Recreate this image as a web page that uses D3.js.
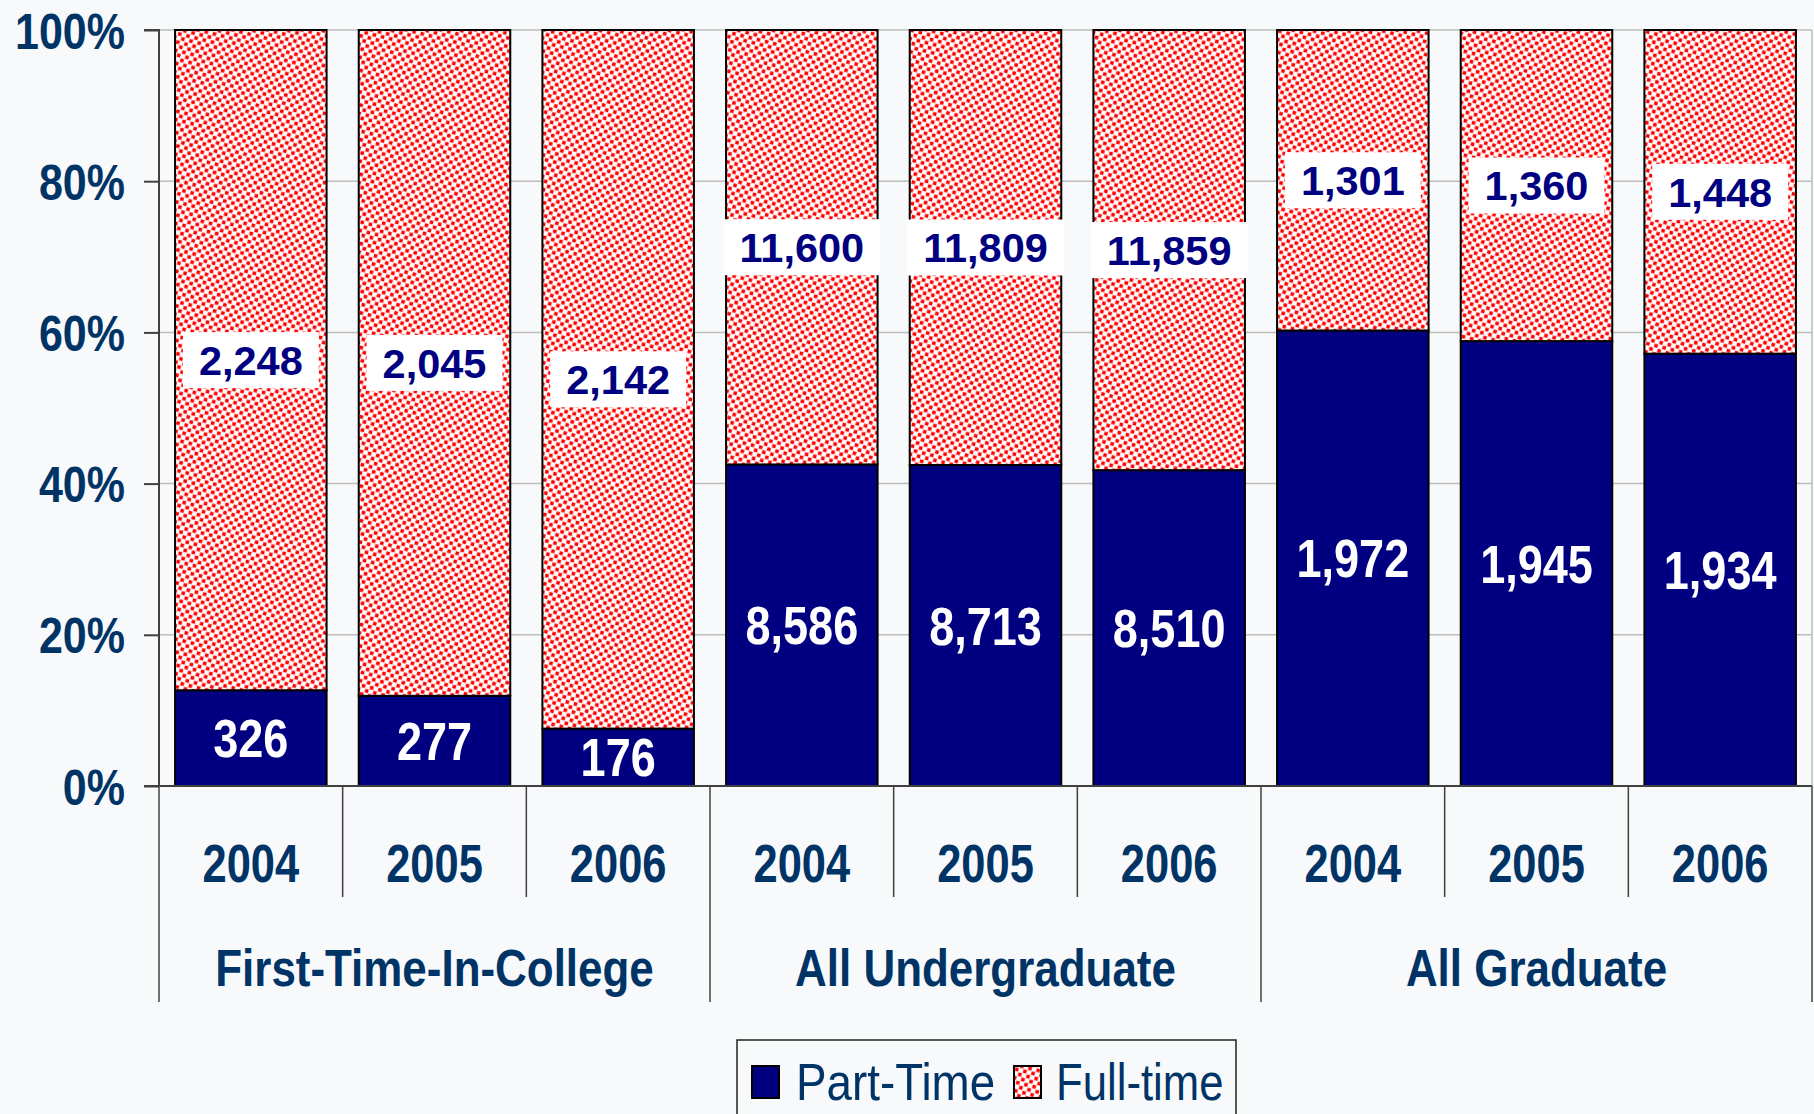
<!DOCTYPE html>
<html><head><meta charset="utf-8">
<script src="https://cdn.jsdelivr.net/npm/d3@7"></script>
<style>
html,body{margin:0;padding:0;background:#f7f9fb;}
svg{display:block;}
text{font-family:"Liberation Sans",Arial,sans-serif;}
</style></head>
<body>
<svg id="chart" width="1814" height="1114"></svg>
<script>
// ---- data ----
const groups = ["First-Time-In-College", "All Undergraduate", "All Graduate"];
const years = ["2004", "2005", "2006"];
const partTime = [326, 277, 176, 8586, 8713, 8510, 1972, 1945, 1934];
const fullTime = [2248, 2045, 2142, 11600, 11809, 11859, 1301, 1360, 1448];
const yTicks = [0, 0.2, 0.4, 0.6, 0.8, 1.0];
const seriesNames = ["Part-Time", "Full-time"];

const NAVY = "#000080", TXT = "#003366";
const svg = d3.select("#chart");
const W = 1814, H = 1114;
const m = {left: 159, right: 2, top: 30, bottom: 328};
const plotW = W - m.left - m.right, plotH = H - m.top - m.bottom;

const cats = [];
groups.forEach((g, gi) => years.forEach((y, yi) => cats.push({g, y, gi, yi, i: gi * 3 + yi})));
const table = cats.map(c => ({key: c.i, part: partTime[c.i], full: fullTime[c.i]}));
const stack = d3.stack().keys(["part", "full"]).offset(d3.stackOffsetExpand);
const stacked = stack(table);

const x = d3.scaleBand().domain(cats.map(c => c.i)).range([m.left, m.left + plotW]).paddingInner(0.175).paddingOuter(0.0875);
const xStep = plotW / cats.length;
const y = d3.scaleLinear().domain([0, 1]).range([m.top + plotH, m.top]);

// pattern
const defs = svg.append("defs");
const pat = defs.append("pattern").attr("id", "dots").attr("patternUnits", "userSpaceOnUse")
  .attr("width", 8.4).attr("height", 8.4).attr("patternTransform", "rotate(14)");
pat.append("rect").attr("width", 8.4).attr("height", 8.4).attr("fill", "#fff");
pat.append("rect").attr("x", 0.3).attr("y", 0.3).attr("width", 3.6).attr("height", 3.6).attr("fill", "#ff0000");
pat.append("rect").attr("x", 4.5).attr("y", 4.5).attr("width", 3.6).attr("height", 3.6).attr("fill", "#ff0000");

// gridlines
svg.append("g").selectAll("line").data(yTicks.filter(t => t > 0)).join("line")
  .attr("x1", m.left).attr("x2", m.left + plotW)
  .attr("y1", d => y(d)).attr("y2", d => y(d))
  .attr("stroke", "#bdbdbd").attr("stroke-width", 1.5);
svg.append("line").attr("x1", m.left + plotW).attr("x2", m.left + plotW)
  .attr("y1", y(1)).attr("y2", y(0)).attr("stroke", "#bdbdbd").attr("stroke-width", 1.5);

// bars
const fills = [NAVY, "url(#dots)"];
stacked.forEach((s, si) => {
  svg.append("g").selectAll("rect").data(s).join("rect")
    .attr("x", (d, i) => x(i)).attr("width", x.bandwidth())
    .attr("y", d => y(d[1])).attr("height", d => y(d[0]) - y(d[1]))
    .attr("fill", fills[si]).attr("stroke", "#000").attr("stroke-width", 2);
});

// y axis
const yAxis = d3.axisLeft(y).tickValues(yTicks).tickFormat(d3.format(".0%")).tickSize(15).tickPadding(0);
const ya = svg.append("g").attr("transform", `translate(${m.left},0)`).call(yAxis);
ya.select(".domain").attr("stroke", "#404040").attr("stroke-width", 2).attr("d", `M-15,${y(1)}H0V${y(0)}`);
ya.selectAll(".tick line").attr("stroke", "#404040").attr("stroke-width", 2);
ya.selectAll(".tick text").remove();
ya.selectAll(".tick").append("g").attr("transform", "translate(-34,0) scale(0.86,1)")
  .append("text").text(d => d3.format(".0%")(d))
  .attr("text-anchor", "end").attr("dy", "0.36em")
  .attr("fill", TXT).attr("font-size", 50).attr("font-weight", "bold");

// x axis base line + separators
const x0 = y(0);
svg.append("line").attr("x1", m.left - 15).attr("x2", m.left + plotW).attr("y1", x0).attr("y2", x0)
  .attr("stroke", "#404040").attr("stroke-width", 2);
const seps = d3.range(cats.length + 1);
svg.append("g").selectAll("line").data(seps).join("line")
  .attr("x1", i => m.left + i * xStep).attr("x2", i => m.left + i * xStep)
  .attr("y1", x0).attr("y2", i => (i % 3 === 0) ? 1002 : 897)
  .attr("stroke", "#404040").attr("stroke-width", 1.5);

// year labels
svg.append("g").selectAll("g").data(cats).join("g")
  .attr("transform", c => `translate(${x(c.i) + x.bandwidth() / 2},863) scale(0.82,1)`)
  .append("text").text(c => c.y).attr("text-anchor", "middle").attr("dy", "0.36em")
  .attr("fill", TXT).attr("font-size", 53).attr("font-weight", "bold");
// group labels
svg.append("g").selectAll("g").data(groups).join("g")
  .attr("transform", (g, gi) => `translate(${m.left + (gi * 3 + 1.5) * xStep},967) scale(0.845,1)`)
  .append("text").text(g => g).attr("text-anchor", "middle").attr("dy", "0.36em")
  .attr("fill", TXT).attr("font-size", 52).attr("font-weight", "bold");

// part-time labels
svg.append("g").selectAll("g").data(stacked[0]).join("g")
  .attr("transform", (d, i) => `translate(${x(i) + x.bandwidth() / 2},${(y(d[0]) + y(d[1])) / 2}) scale(0.85,1)`)
  .append("text").text((d, i) => d3.format(",")(partTime[i])).attr("text-anchor", "middle").attr("dy", "0.36em")
  .attr("fill", "#fff").attr("font-size", 53).attr("font-weight", "bold");

// full-time labels with white boxes
const fl = svg.append("g").selectAll("g").data(stacked[1]).join("g")
  .attr("transform", (d, i) => `translate(${x(i) + x.bandwidth() / 2},${(y(d[0]) + y(d[1])) / 2})`);
fl.append("text").text((d, i) => d3.format(",")(fullTime[i])).attr("text-anchor", "middle").attr("dy", "0.36em")
  .attr("fill", NAVY).attr("font-size", 41.5).attr("font-weight", "bold")
  .each(function() {
    const bb = this.getBBox();
    d3.select(this.parentNode).insert("rect", "text")
      .attr("x", bb.x - 16).attr("width", bb.width + 32)
      .attr("y", -28).attr("height", 56).attr("fill", "#fff");
  });

// legend
const lg = svg.append("g");
lg.append("rect").attr("x", 737).attr("y", 1040).attr("width", 499).attr("height", 120)
  .attr("fill", "#f7f9fb").attr("stroke", "#222").attr("stroke-width", 1.5);
const items = [{name: seriesNames[0], fill: NAVY, sx: 752, tx: 796, sc: 0.88}, {name: seriesNames[1], fill: "url(#dots)", sx: 1014, tx: 1056, sc: 0.84}];
items.forEach(it => {
  lg.append("rect").attr("x", it.sx).attr("y", 1066).attr("width", 27).attr("height", 32)
    .attr("fill", it.fill).attr("stroke", "#000").attr("stroke-width", 2);
  lg.append("g").attr("transform", `translate(${it.tx},1081) scale(${it.sc},1)`)
    .append("text").text(it.name).attr("dy", "0.36em")
    .attr("fill", TXT).attr("font-size", 52);
});
</script>
</body></html>
